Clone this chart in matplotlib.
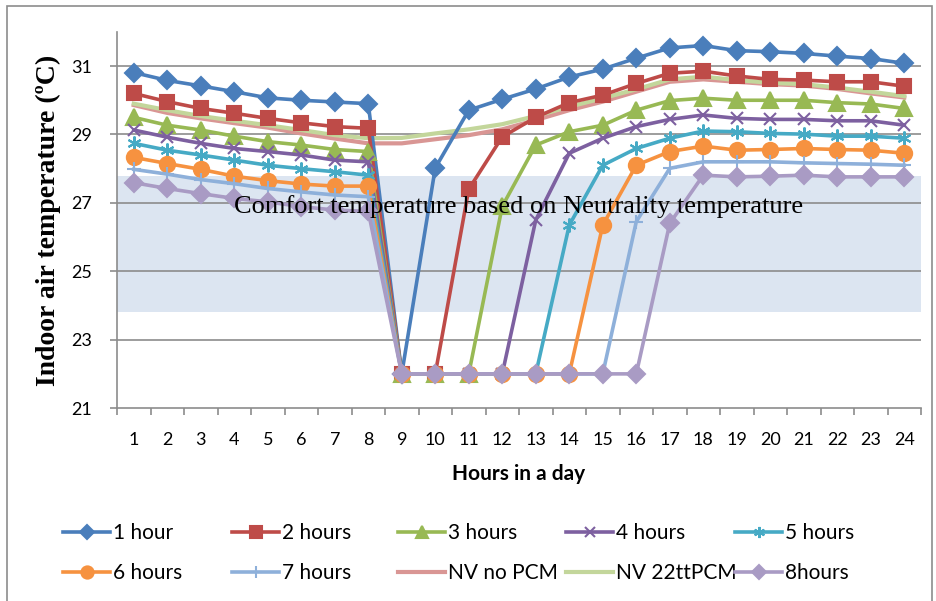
import matplotlib.pyplot as plt
from matplotlib.patches import Rectangle
from matplotlib.lines import Line2D

hours = list(range(1, 25))

# indoor air temperature per series
h1 = [30.81, 30.58, 30.42, 30.25, 30.07, 30.0, 29.95, 29.9, 22.0, 28.02, 29.71, 30.03,
      30.33, 30.68, 30.91, 31.23, 31.53, 31.6, 31.45, 31.42, 31.37, 31.29, 31.22, 31.08]
h2 = [30.2, 29.96, 29.76, 29.62, 29.47, 29.34, 29.23, 29.18, 22.0, 22.0, 27.4, 28.93,
      29.5, 29.93, 30.15, 30.49, 30.79, 30.85, 30.71, 30.61, 30.59, 30.54, 30.54, 30.41]
h3 = [29.5, 29.27, 29.13, 28.95, 28.79, 28.69, 28.56, 28.5, 22.0, 22.0, 22.0, 26.9,
      28.69, 29.08, 29.27, 29.71, 29.99, 30.06, 30.0, 30.0, 30.0, 29.93, 29.89, 29.76]
h4 = [29.13, 28.92, 28.74, 28.59, 28.5, 28.4, 28.25, 28.2, 22.0, 22.0, 22.0, 22.0,
      26.5, 28.45, 28.89, 29.23, 29.44, 29.57, 29.47, 29.44, 29.44, 29.4, 29.4, 29.27]
h5 = [28.74, 28.54, 28.4, 28.25, 28.1, 28.0, 27.91, 27.81, 22.0, 22.0, 22.0, 22.0,
      22.0, 26.35, 28.1, 28.59, 28.89, 29.1, 29.08, 29.03, 29.01, 28.95, 28.95, 28.89]
h6 = [28.33, 28.15, 27.98, 27.78, 27.65, 27.55, 27.49, 27.49, 22.0, 22.0, 22.0, 22.0,
      22.0, 22.0, 26.35, 28.1, 28.5, 28.66, 28.54, 28.56, 28.59, 28.56, 28.54, 28.45]
h7 = [27.98, 27.84, 27.68, 27.56, 27.42, 27.32, 27.23, 27.18, 22.0, 22.0, 22.0, 22.0,
      22.0, 22.0, 22.0, 26.45, 28.01, 28.2, 28.2, 28.2, 28.17, 28.15, 28.13, 28.1]
nv_no = [29.86, 29.63, 29.47, 29.33, 29.2, 29.03, 28.88, 28.74, 28.74, 28.86, 28.98, 29.15,
         29.42, 29.71, 29.96, 30.25, 30.54, 30.61, 30.54, 30.47, 30.43, 30.33, 30.2, 30.08]
nv_22 = [29.9, 29.71, 29.54, 29.4, 29.27, 29.13, 28.98, 28.89, 28.9, 29.03, 29.15, 29.3,
         29.54, 29.81, 30.06, 30.32, 30.61, 30.69, 30.59, 30.51, 30.47, 30.37, 30.25, 30.12]
h8 = [27.59, 27.42, 27.27, 27.13, 27.03, 26.89, 26.79, 26.75, 22.0, 22.0, 22.0, 22.0,
      22.0, 22.0, 22.0, 22.0, 26.4, 27.81, 27.76, 27.78, 27.81, 27.76, 27.76, 27.76]

series = [
    ("1 hour", h1, "#4A7EBB", "D", 9),
    ("2 hours", h2, "#BE4B48", "s", 10.5),
    ("3 hours", h3, "#98B954", "^", 11),
    ("4 hours", h4, "#7D60A0", "x", 9),
    ("5 hours", h5, "#46AAC5", (6, 2, 0), 10),
    ("6 hours", h6, "#F69240", "o", 11),
    ("7 hours", h7, "#8EB0DA", "+", 10),
    ("NV no PCM", nv_no, "#D99694", None, 0),
    ("NV 22ttPCM", nv_22, "#C3D69B", None, 0),
    ("8hours", h8, "#A99BC4", "D", 9),
]

fig = plt.figure(figsize=(9.36, 6.01), dpi=100)
ax = fig.add_axes([0.125, 0.321, 0.859, 0.626])

# chart border
fig.patches.append(Rectangle((0.008, -0.02), 0.988, 1.01, transform=fig.transFigure,
                             fill=False, edgecolor="#8c8c8c", lw=1.2))

ax.axhspan(23.8, 27.8, color="#DCE5F1", zorder=0.5, lw=0)
for yv in range(23, 33, 2):
    ax.axhline(yv, color="#8c8c8c", lw=1.2, zorder=1)

handles = []
for name, vals, col, mk, ms in series:
    if mk is None:
        ln, = ax.plot(hours, vals, color=col, lw=3, label=name, zorder=2)
    else:
        ln, = ax.plot(hours, vals, color=col, lw=2.6, marker=mk, markersize=ms,
                      markeredgecolor=col, markerfacecolor=col, markeredgewidth=1.5,
                      label=name, zorder=3)
    handles.append(ln)

ax.text(0.5, 26.9, "Comfort temperature based on Neutrality temperature",
        transform=ax.get_yaxis_transform(), ha="center", va="center",
        family="Liberation Serif", fontsize=19, zorder=5)

ax.set_xlim(0.5, 24.5)
ax.set_ylim(21, 32)
ax.set_yticks(range(21, 32, 2))
ax.set_xticks(hours)
ax.set_xticks([h + 0.5 for h in range(0, 25)], minor=True)
ax.tick_params(axis="x", which="major", length=0, pad=17, labelsize=13)
ax.tick_params(axis="x", which="minor", length=5, color="#8c8c8c", width=1.2)
ax.tick_params(axis="y", length=5, color="#8c8c8c", width=1.2, labelsize=13, pad=13)
for lab in ax.get_xticklabels() + ax.get_yticklabels():
    lab.set_family("Lato")

for s in ["top", "right"]:
    ax.spines[s].set_visible(False)
for s in ["left", "bottom"]:
    ax.spines[s].set_color("#8c8c8c")
    ax.spines[s].set_linewidth(1.2)

ax.set_xlabel("Hours in a day", fontsize=15, fontweight="bold",
              family="Lato", labelpad=12)
ax.set_ylabel("Indoor air temperature (ºC)", fontsize=20, fontweight="bold",
              family="Liberation Serif", labelpad=7)

# legend: two rows of five, evenly spaced like the original
leg_x = [63, 232, 398, 566, 735]
leg_y = [533, 573]
for i, ln in enumerate(handles):
    px = leg_x[i % 5]
    py = leg_y[i // 5]
    h = Line2D([], [], color=ln.get_color(), lw=ln.get_linewidth(),
               marker=ln.get_marker(), markersize=ln.get_markersize() * 0.8,
               markeredgecolor=ln.get_color(), markerfacecolor=ln.get_color(),
               markeredgewidth=1.5)
    fig.legend(handles=[h], labels=[ln.get_label()], loc="center left",
               bbox_to_anchor=(px / 936, 1 - py / 601), frameon=False,
               borderpad=0, borderaxespad=0, handlelength=2.26, handletextpad=0.15,
               prop={"family": "Lato", "size": 15})

fig.savefig("out.png", dpi=100)
